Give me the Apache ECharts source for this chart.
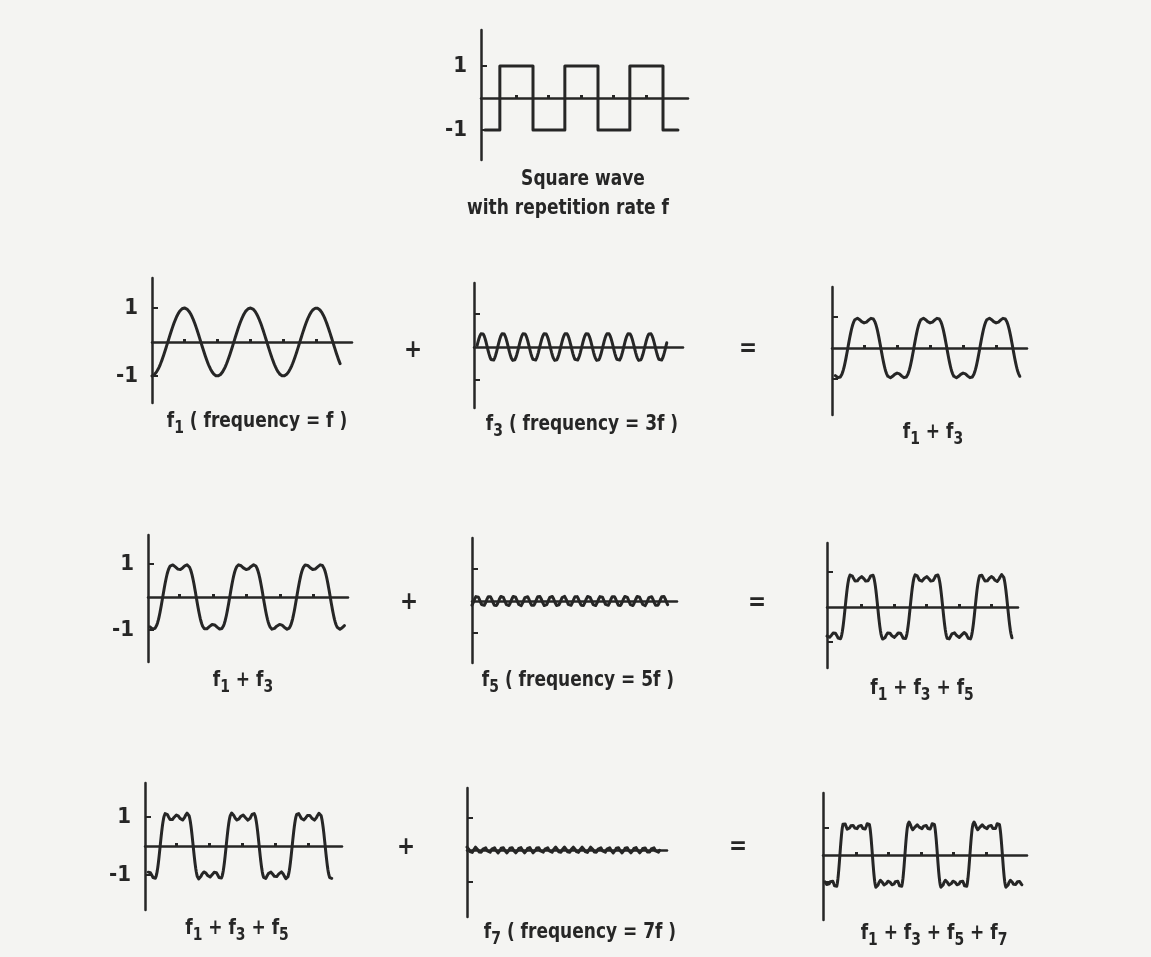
<!DOCTYPE html>
<html>
<head>
<meta charset="utf-8">
<script src="https://cdn.jsdelivr.net/npm/echarts@6/dist/echarts.min.js"></script>
<style>
  html, body { margin: 0; padding: 0; background: #f4f4f2; }
  #chart { width: 1151px; height: 957px; }
</style>
</head>
<body>
<div id="chart"></div>
<script>
// Harmonic orders of the Fourier components of a square wave
const harmonics = [1, 3, 5, 7];

// Amplitude of each harmonic (in units of the ±1 ticks), one array per panel
const ampF1        = [1.0];
const ampF3        = [0, 0.42];
const ampSum13a    = [1.08, 0.27];
const ampSum13b    = [1.1, 0.27];
const ampF5        = [0, 0, 0.16];
const ampSum135a   = [1.02, 0.33, 0.18];
const ampSum135b   = [1.25, 0.4, 0.22];
const ampF7        = [0, 0, 0, 0.09];
const ampSum1357   = [1.32, 0.44, 0.26, 0.18];

// Curve extent and rising zero crossing of f, in periods of f (same panel order)
const curveStart   = [0.00, 0.05, 0.05, 0.03, 0.00, 0.00, 0.05, 0.00, 0.03];
const curveEnd     = [2.85, 3.06, 2.85, 2.94, 3.16, 2.85, 2.83, 3.11, 3.06];
const risingZero   = [0.24, 0.377, 0.24, 0.22, 0.23, 0.28, 0.23, 0.25, 0.26];

// Square wave: levels between switching points, in periods of f
const squareLevels = [-1, 1, -1, 1, -1, 1, -1];
const squareEdges  = [0.06, 0.29, 0.80, 1.29, 1.80, 2.29, 2.80, 3.03];
const squareRise   = 0.29;

// Y-axis tick values
const yTicks = [-1, 1];

// Captions (rich text: t = main, s = subscript)
const captions = [
  '{t|f}{s|1}{t| ( frequency = f )}',
  '{t|f}{s|3}{t| ( frequency = 3f )}',
  '{t|f}{s|1}{t| + f}{s|3}',
  '{t|f}{s|1}{t| + f}{s|3}',
  '{t|f}{s|5}{t| ( frequency = 5f )}',
  '{t|f}{s|1}{t| + f}{s|3}{t| + f}{s|5}',
  '{t|f}{s|1}{t| + f}{s|3}{t| + f}{s|5}',
  '{t|f}{s|7}{t| ( frequency = 7f )}',
  '{t|f}{s|1}{t| + f}{s|3}{t| + f}{s|5}{t| + f}{s|7}'
];
const squareTitle = ['Square wave', 'with repetition rate f'];
const operators = ['+', '=', '+', '=', '+', '='];

const panelAmps = [ampF1, ampF3, ampSum13a, ampSum13b, ampF5, ampSum135a, ampSum135b, ampF7, ampSum1357];
const hasDots   = [true, false, true, true, false, true, true, false, true];
const hasLabels = [true, false, false, true, false, false, true, false, false];

// Pixel layout of each small plot: y-axis x, x-axis end, axis top/bottom, zero line, px per unit, px per period
const squareBox = { x0: 481, x1: 688, top: 30, bot: 160, zero: 98, unit: 32, period: 65 };
const boxes = [
  { x0: 152, x1: 352,  top: 278, bot: 403, zero: 342, unit: 34, period: 66 },
  { x0: 474, x1: 683,  top: 283, bot: 408, zero: 347, unit: 33, period: 63 },
  { x0: 832, x1: 1027, top: 287, bot: 415, zero: 348, unit: 31, period: 66 },
  { x0: 148, x1: 348,  top: 535, bot: 662, zero: 597, unit: 33, period: 67 },
  { x0: 472, x1: 677,  top: 538, bot: 663, zero: 601, unit: 32, period: 62 },
  { x0: 827, x1: 1018, top: 543, bot: 668, zero: 607, unit: 35, period: 65 },
  { x0: 145, x1: 342,  top: 783, bot: 910, zero: 846, unit: 29, period: 66 },
  { x0: 467, x1: 667,  top: 788, bot: 917, zero: 850, unit: 32, period: 62 },
  { x0: 823, x1: 1027, top: 793, bot: 920, zero: 855, unit: 27, period: 65 }
];
const captionPos = [[257, 421], [582, 424], [933, 432], [243, 680], [578, 680], [922, 688], [237, 928], [580, 932], [934, 933]];
const operatorPos = [[413, 351], [748, 350], [409, 603], [757, 604], [406, 848], [738, 848]];
const titlePos = [[583, 179], [568, 208]];

const INK = '#262626';
const FONT = '"DejaVu Sans Condensed", "Liberation Sans Narrow", "DejaVu Sans", sans-serif';
const TEXT_SCALE_X = 0.86;

function fourier(amps, x, x0) {
  let y = 0;
  for (let i = 0; i < amps.length; i++) {
    y += amps[i] * Math.sin(2 * Math.PI * harmonics[i] * (x - x0));
  }
  return y;
}

function curve(i) {
  const pts = [];
  const n = 700;
  for (let k = 0; k <= n; k++) {
    const x = curveStart[i] + (curveEnd[i] - curveStart[i]) * k / n;
    pts.push([x, fourier(panelAmps[i], x, risingZero[i])]);
  }
  return pts;
}

function squareData() {
  const pts = [[squareEdges[0], squareLevels[0]]];
  for (let i = 1; i < squareEdges.length - 1; i++) {
    pts.push([squareEdges[i], squareLevels[i - 1]]);
    pts.push([squareEdges[i], squareLevels[i]]);
  }
  pts.push([squareEdges[squareEdges.length - 1], squareLevels[squareLevels.length - 1]]);
  return pts;
}

function peakTicks(zeroX) {
  const v = [];
  for (let k = 0; k < 5; k++) v.push(zeroX + 0.25 + k * 0.5);
  return v;
}

const grids = [], xAxes = [], yAxes = [], series = [];

function addPanel(box, data, dots, labels) {
  const idx = grids.length;
  grids.push({ left: box.x0, top: box.top, width: box.x1 - box.x0, height: box.bot - box.top, containLabel: false });
  xAxes.push({
    gridIndex: idx, type: 'value', min: 0, max: (box.x1 - box.x0) / box.period,
    axisLine: { show: true, onZero: true, lineStyle: { color: INK, width: 2.5 } },
    axisTick: dots ? { show: true, inside: true, length: 3, customValues: dots, lineStyle: { color: INK, width: 3 } } : { show: false },
    axisLabel: { show: false }, splitLine: { show: false }
  });
  yAxes.push({
    gridIndex: idx, type: 'value',
    min: -(box.bot - box.zero) / box.unit, max: (box.zero - box.top) / box.unit,
    axisLine: { show: true, lineStyle: { color: INK, width: 2.5 } },
    axisTick: { show: true, inside: true, length: 6, customValues: yTicks, lineStyle: { color: INK, width: 2 } },
    axisLabel: labels ? {
      show: true, customValues: yTicks, margin: 14, color: INK, fontSize: 22, fontFamily: FONT, fontWeight: 'bold',
      formatter: v => (v > 0 ? '1' : '-1')
    } : { show: false },
    splitLine: { show: false }
  });
  series.push({
    type: 'line', xAxisIndex: idx, yAxisIndex: idx, data: data,
    showSymbol: false, silent: true, clip: false,
    lineStyle: { color: INK, width: 3, join: 'round', cap: 'round' }
  });
}

addPanel(squareBox, squareData(), peakTicks(squareRise), true);
boxes.forEach((b, i) => addPanel(b, curve(i), hasDots[i] ? peakTicks(risingZero[i]) : null, hasLabels[i]));

const richStyle = {
  t: { fontSize: 22, fontFamily: FONT, fontWeight: 'bold', fill: INK, color: INK, lineHeight: 32, verticalAlign: 'middle' },
  s: { fontSize: 18, fontFamily: FONT, fontWeight: 'bold', fill: INK, color: INK, lineHeight: 16, verticalAlign: 'bottom' }
};

const graphics = [];
captions.forEach((c, i) => {
  graphics.push({
    type: 'text', x: captionPos[i][0], y: captionPos[i][1], scaleX: TEXT_SCALE_X, silent: true,
    style: { text: c, rich: richStyle, align: 'center', verticalAlign: 'middle' }
  });
});
squareTitle.forEach((s, i) => {
  graphics.push({
    type: 'text', x: titlePos[i][0], y: titlePos[i][1], scaleX: TEXT_SCALE_X, silent: true,
    style: { text: s, fill: INK, font: 'bold 22px ' + FONT, align: 'center', verticalAlign: 'middle' }
  });
});
operators.forEach((o, i) => {
  graphics.push({
    type: 'text', x: operatorPos[i][0], y: operatorPos[i][1], silent: true,
    style: { text: o, fill: INK, font: 'bold 24px ' + FONT, align: 'center', verticalAlign: 'middle' }
  });
});

const chart = echarts.init(document.getElementById('chart'), null, { renderer: 'canvas' });
chart.setOption({
  backgroundColor: '#f4f4f2',
  animation: false,
  grid: grids, xAxis: xAxes, yAxis: yAxes, series: series,
  graphic: graphics
});
</script>
</body>
</html>
